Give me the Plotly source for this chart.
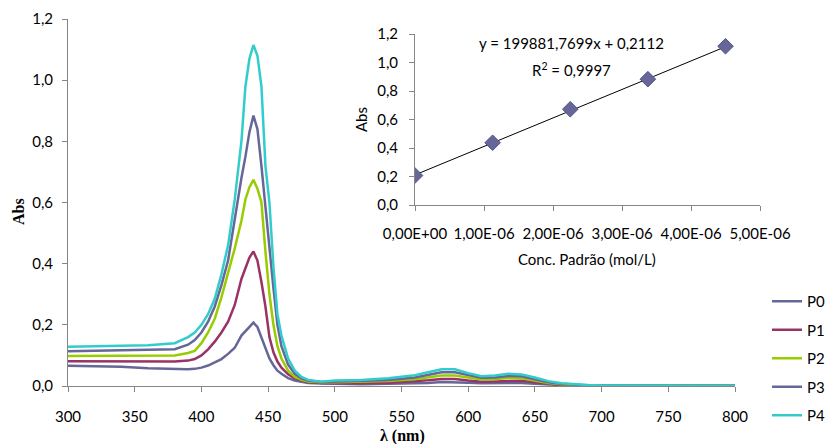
import plotly.graph_objects as go

# UV-Vis spectra of the standard solutions P0..P4
wavelength = [300, 320, 340, 360, 380, 390, 395, 400, 405, 410, 415, 420, 425, 430, 433, 436,
              439, 442, 445, 448, 451, 454, 457, 460, 465, 470, 475, 480, 490, 500, 520, 540,
              560, 570, 580, 590, 600, 610, 620, 630, 640, 650, 660, 670, 680, 690, 700, 750, 800]

p0 = [0.066, 0.065, 0.063, 0.058, 0.055, 0.055, 0.056, 0.060, 0.067, 0.077, 0.088, 0.105, 0.125,
      0.165, 0.180, 0.195, 0.207, 0.193, 0.160, 0.125, 0.090, 0.068, 0.050, 0.040, 0.026, 0.018,
      0.013, 0.010, 0.008, 0.007, 0.006, 0.007, 0.008, 0.010, 0.013, 0.013, 0.011, 0.009, 0.009,
      0.010, 0.010, 0.007, 0.004, 0.003, 0.002, 0.001, 0.001, 0.001, 0.001]
p1 = [0.081, 0.081, 0.080, 0.079, 0.080, 0.083, 0.088, 0.100, 0.120, 0.145, 0.175, 0.210, 0.265,
      0.350, 0.385, 0.420, 0.440, 0.410, 0.340, 0.260, 0.160, 0.110, 0.080, 0.060, 0.038, 0.025,
      0.018, 0.013, 0.010, 0.009, 0.009, 0.011, 0.015, 0.019, 0.023, 0.023, 0.018, 0.014, 0.015,
      0.017, 0.017, 0.012, 0.007, 0.004, 0.002, 0.002, 0.001, 0.001, 0.001]
p2 = [0.098, 0.098, 0.098, 0.098, 0.100, 0.108, 0.115, 0.140, 0.175, 0.220, 0.290, 0.370, 0.450,
      0.540, 0.610, 0.650, 0.674, 0.645, 0.600, 0.440, 0.300, 0.200, 0.130, 0.090, 0.050, 0.030,
      0.020, 0.015, 0.012, 0.012, 0.013, 0.016, 0.022, 0.027, 0.034, 0.034, 0.027, 0.021, 0.022,
      0.026, 0.025, 0.017, 0.010, 0.006, 0.003, 0.002, 0.002, 0.001, 0.001]
p3 = [0.114, 0.115, 0.117, 0.117, 0.120, 0.135, 0.150, 0.175, 0.210, 0.260, 0.330, 0.410, 0.550,
      0.680, 0.750, 0.830, 0.884, 0.840, 0.720, 0.580, 0.460, 0.320, 0.200, 0.130, 0.070, 0.040,
      0.025, 0.018, 0.013, 0.014, 0.016, 0.020, 0.028, 0.036, 0.045, 0.045, 0.035, 0.027, 0.028,
      0.033, 0.032, 0.022, 0.012, 0.007, 0.004, 0.002, 0.002, 0.001, 0.001]
p4 = [0.128, 0.130, 0.132, 0.133, 0.140, 0.160, 0.175, 0.200, 0.235, 0.285, 0.365, 0.460, 0.610,
      0.800, 0.980, 1.070, 1.115, 1.080, 0.980, 0.720, 0.600, 0.390, 0.235, 0.165, 0.090, 0.050,
      0.030, 0.020, 0.014, 0.018, 0.020, 0.025, 0.035, 0.045, 0.055, 0.055, 0.042, 0.032, 0.034,
      0.040, 0.038, 0.028, 0.016, 0.009, 0.005, 0.003, 0.002, 0.001, 0.001]

series_names = ["P0", "P1", "P2", "P3", "P4"]
series_values = [p0, p1, p2, p3, p4]
series_colors = ["#666699", "#993366", "#99CC00", "#666699", "#33CCCC"]

# Calibration curve (inset)
conc = [0.0, 1.125e-6, 2.25e-6, 3.375e-6, 4.5e-6]
abs_std = [0.207, 0.437, 0.672, 0.883, 1.114]
slope = 199881.7699
intercept = 0.2112
r_squared = "0,9997"

inset_xticks = [0, 1e-6, 2e-6, 3e-6, 4e-6, 5e-6]
inset_xlabels = ["0,00E+00", "1,00E-06", "2,00E-06", "3,00E-06", "4,00E-06", "5,00E-06"]

W, H = 828, 444
FONT = "Lato"
AXIS_GRAY = "#868686"

fig = go.Figure()

for name, vals, col in zip(series_names, series_values, series_colors):
    fig.add_trace(go.Scatter(
        x=wavelength, y=vals, mode="lines", name=name, legendgroup=name,
        line=dict(color=col, width=2.5), xaxis="x", yaxis="y",
    ))

# trendline from the fitted equation over the data range
x_fit = [min(conc), max(conc)]
y_fit = [slope * v + intercept for v in x_fit]
fig.add_trace(go.Scatter(
    x=x_fit, y=y_fit, mode="lines", line=dict(color="black", width=1),
    showlegend=False, xaxis="x2", yaxis="y2", hoverinfo="skip",
))
fig.add_trace(go.Scatter(
    x=conc, y=abs_std, mode="markers",
    marker=dict(symbol="diamond", size=12, color="#666699",
                line=dict(color="#55558a", width=1)),
    showlegend=False, xaxis="x2", yaxis="y2",
))

def px_x(p):
    return p / W

def px_y(p):
    return 1 - p / H

axis_common = dict(
    showline=True, linecolor=AXIS_GRAY, linewidth=1, ticks="outside",
    ticklen=5, tickcolor=AXIS_GRAY, showgrid=False, zeroline=False,
    automargin=False, tickangle=0,
    tickfont=dict(family=FONT, size=15, color="black"),
)

fig.update_layout(
    width=W, height=H,
    margin=dict(l=0, r=0, t=0, b=0, autoexpand=False),
    paper_bgcolor="white", plot_bgcolor="rgba(0,0,0,0)",
    separators=",.",
    showlegend=True,
    legend=dict(
        x=px_x(767), y=px_y(285), xanchor="left", yanchor="top",
        font=dict(family=FONT, size=15, color="black"),
        tracegroupgap=6, itemwidth=30, bgcolor="rgba(0,0,0,0)",
    ),
    xaxis=dict(
        domain=[px_x(68), px_x(735)], range=[300, 800], dtick=50, tick0=300,
        anchor="y", ticklabelstandoff=12, **axis_common,
    ),
    yaxis=dict(
        domain=[px_y(386), px_y(19)], range=[0, 1.2], dtick=0.2, tick0=0,
        tickformat=".1f", anchor="x", ticklabelstandoff=6, **axis_common,
    ),
    xaxis2=dict(
        domain=[px_x(415), px_x(760)], range=[0, 5e-6],
        tickvals=inset_xticks, ticktext=inset_xlabels,
        anchor="y2", ticklabelstandoff=10, **axis_common,
    ),
    yaxis2=dict(
        domain=[px_y(205), px_y(34)], range=[0, 1.2], dtick=0.2, tick0=0,
        tickformat=".1f", anchor="x2", ticklabelstandoff=8, **axis_common,
    ),
)

annotations = [
    dict(text="<b>Abs</b>", x=px_x(18), y=px_y(212), textangle=-90,
         font=dict(family="Liberation Serif", size=16, color="black")),
    dict(text="<b>λ (nm)</b>", x=px_x(402), y=px_y(436),
         font=dict(family="Liberation Serif", size=16, color="black")),
    dict(text="Abs", x=px_x(361), y=px_y(120), textangle=-90,
         font=dict(family=FONT, size=15, color="black")),
    dict(text="Conc. Padrão (mol/L)", x=px_x(587), y=px_y(259),
         font=dict(family=FONT, size=15, color="black")),
    dict(text="y = 199881,7699x + 0,2112", x=px_x(571), y=px_y(43),
         font=dict(family=FONT, size=15, color="black")),
    dict(text="R<sup>2</sup> = " + r_squared, x=px_x(571), y=px_y(70),
         font=dict(family=FONT, size=15, color="black")),
]
for a in annotations:
    a.update(xref="paper", yref="paper", showarrow=False,
             xanchor="center", yanchor="middle")
fig.update_layout(annotations=annotations)

fig.write_html("out.html")
